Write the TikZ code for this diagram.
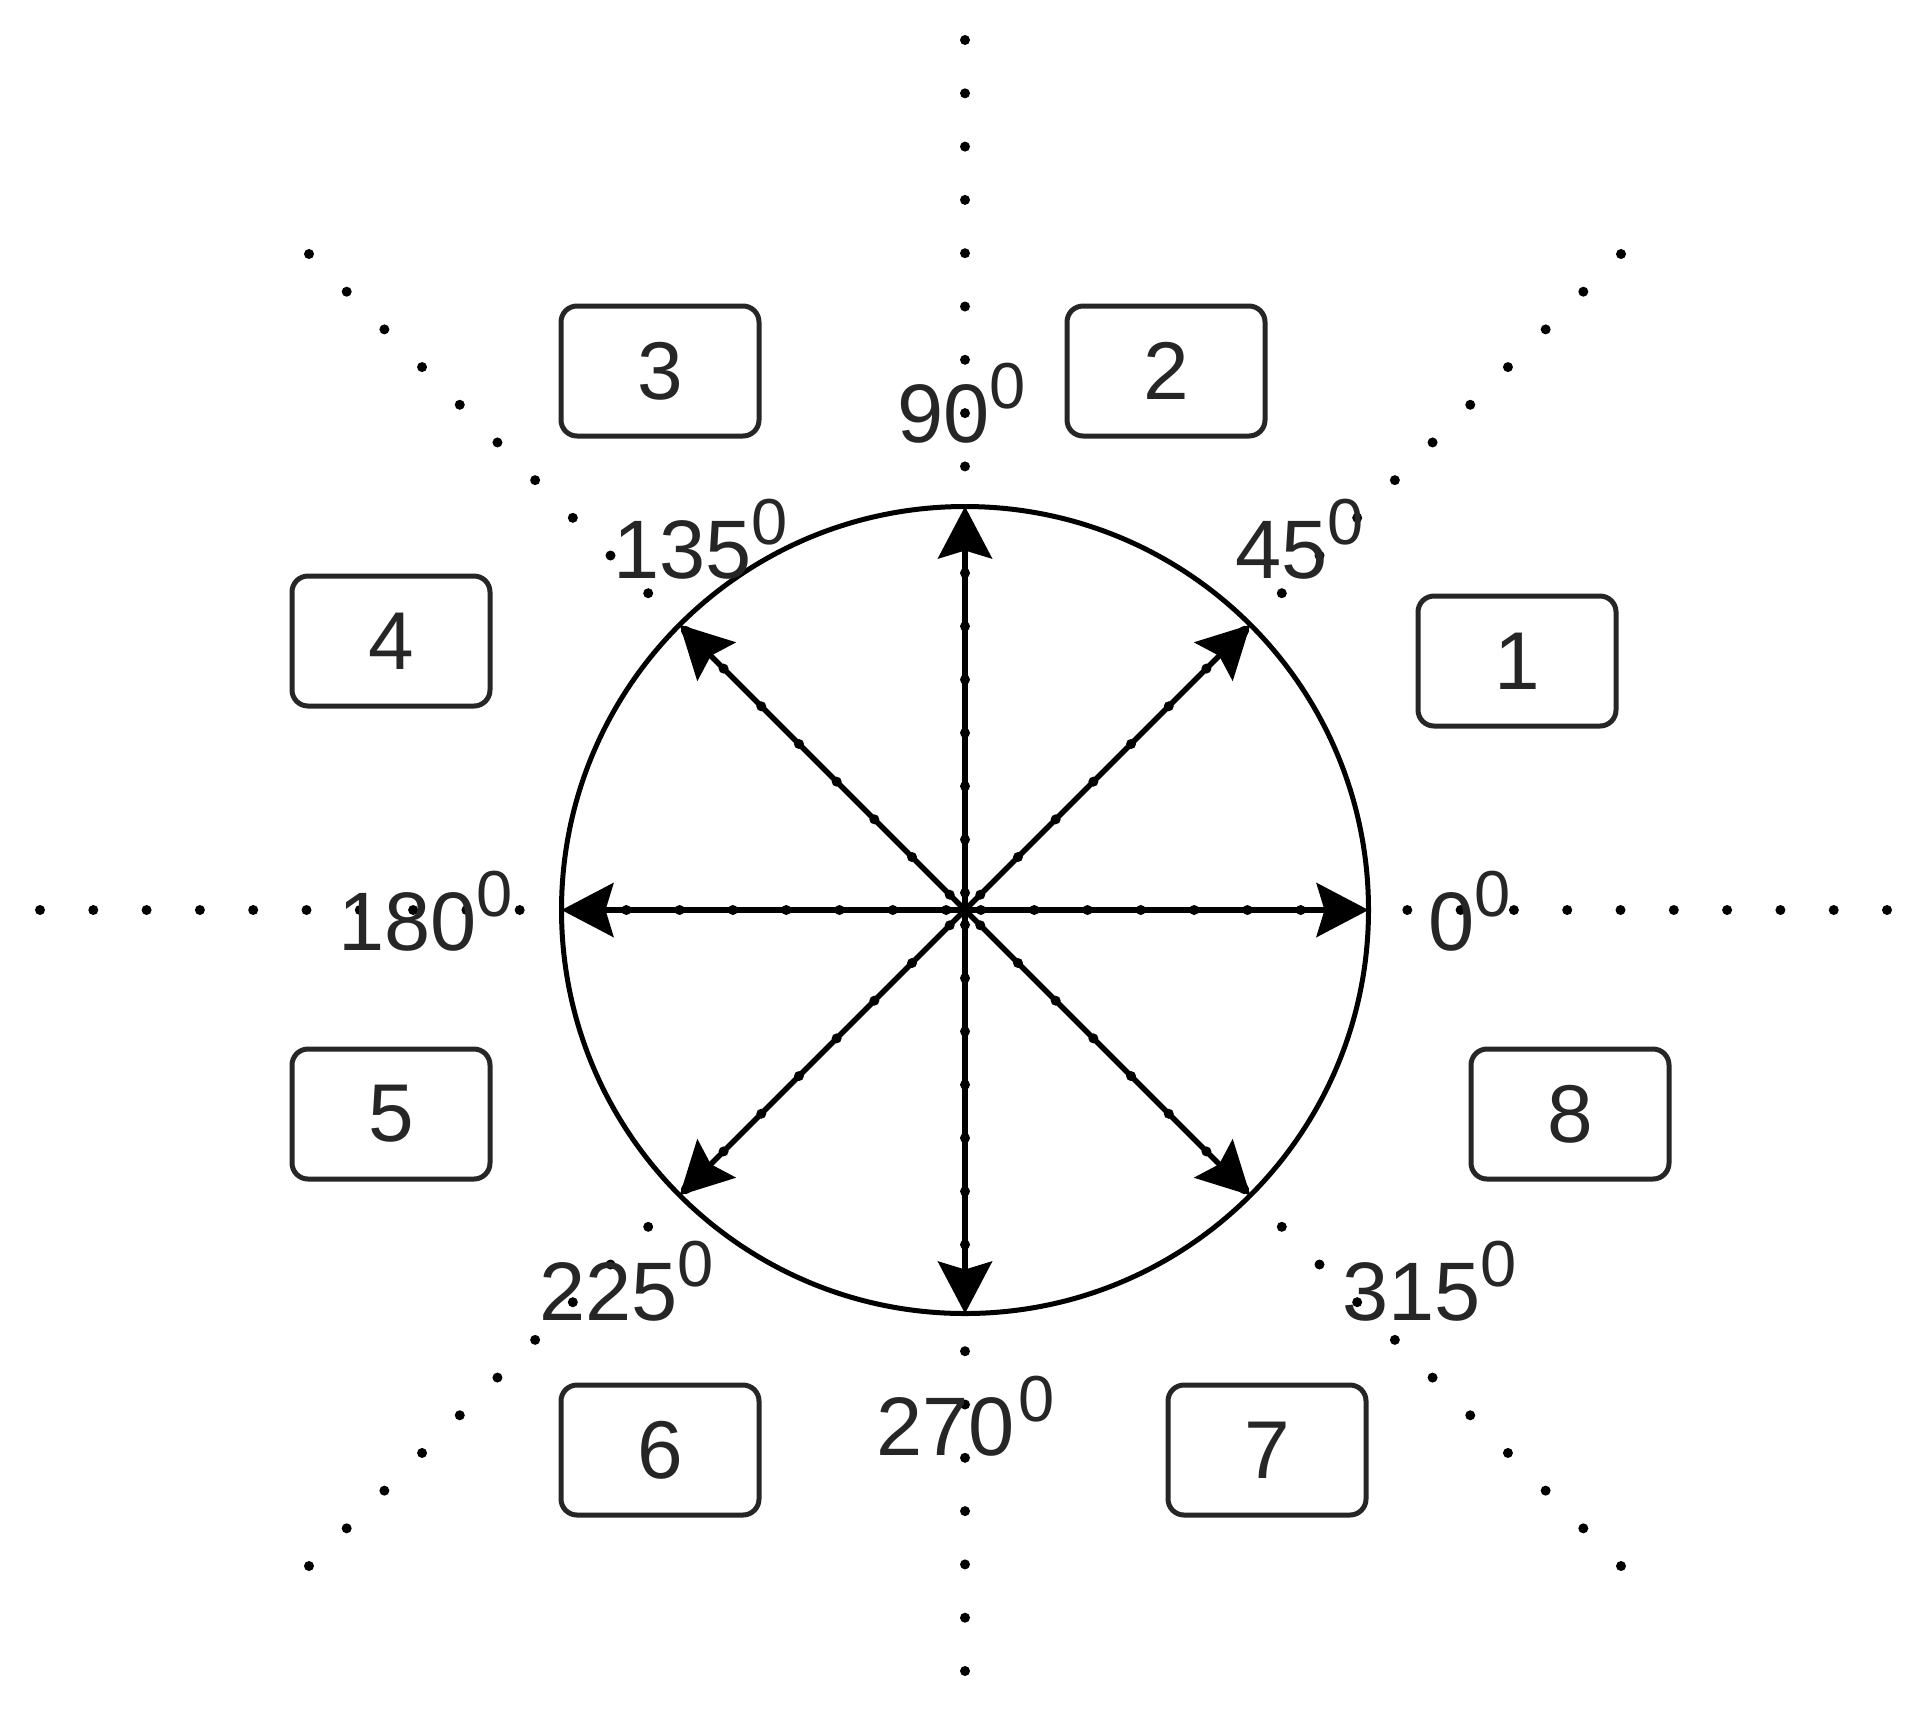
\documentclass[tikz,border=0pt]{standalone}
\usepackage{fontspec}
\setmainfont{Liberation Sans}
\usetikzlibrary{arrows.meta}
\newcommand\dg{\raisebox{34pt}{\fontsize{65}{80}\selectfont 0}}
\begin{document}
\begin{tikzpicture}[x=1pt,y=-1pt,
  dotline/.style={line width=10pt, line cap=round, dash pattern=on 0pt off 53.3pt, draw=black},
  vec/.style={line width=5.5pt, draw=black, -{Stealth[length=52pt,width=54pt,inset=8pt]}},
  numbox/.style={draw=black!85, line width=5pt, rounded corners=16pt, minimum width=198pt, minimum height=130pt, inner sep=0pt, font=\fontsize{82}{100}\selectfont, text=black!85},
  deg/.style={anchor=base west, inner sep=0pt, font=\fontsize{83}{100}\selectfont, text=black!85}]
\useasboundingbox (0,0) rectangle (1924,1717);
\fill[white] (0,0) rectangle (1924,1717);
\coordinate (O) at (965,910);
% dotted guide lines
\coordinate (dE) at (1887,910);
\coordinate (dW) at (40,910);
\coordinate (dN) at (965,40);
\coordinate (dS) at (965,1671);
\coordinate (dNE) at (1621,254);
\coordinate (dNW) at (309,254);
\coordinate (dSW) at (309,1566);
\coordinate (dSE) at (1621,1566);
\foreach \p in {dE,dW,dN,dS,dNE,dNW,dSW,dSE} \draw[dotline] (\p) -- (O);
% circle
\node (C) [circle, draw=black, line width=5pt, minimum size=807pt, inner sep=0pt, outer sep=0pt] at (O) {};
% vectors
\draw[vec] (O) -- (C.east);
\draw[vec] (O) -- (C.north east);
\draw[vec] (O) -- (C.north);
\draw[vec] (O) -- (C.north west);
\draw[vec] (O) -- (C.west);
\draw[vec] (O) -- (C.south west);
\draw[vec] (O) -- (C.south);
\draw[vec] (O) -- (C.south east);
% angle labels
\node[deg] (l0) at (1428,950) {0\dg};
\node[deg] (l45) at (1235,578) {45\dg};
\node[deg] (l90) at (897,442) {90\dg};
\node[deg] (l135) at (613,578) {135\dg};
\node[deg] (l180) at (338,950) {180\dg};
\node[deg] (l225) at (539,1320) {225\dg};
\node[deg] (l270) at (876,1455) {270\hspace{4pt}\dg};
\node[deg] (l315) at (1342,1320) {315\dg};
% numbered boxes
\node[numbox] (b1) at (1517,661) {1};
\node[numbox] (b2) at (1166,371) {2};
\node[numbox] (b3) at (660,371) {3};
\node[numbox] (b4) at (391,641) {4};
\node[numbox] (b5) at (391,1114) {5};
\node[numbox] (b6) at (660,1450) {6};
\node[numbox] (b7) at (1267,1450) {7};
\node[numbox] (b8) at (1570,1114) {8};
\end{tikzpicture}
\end{document}
